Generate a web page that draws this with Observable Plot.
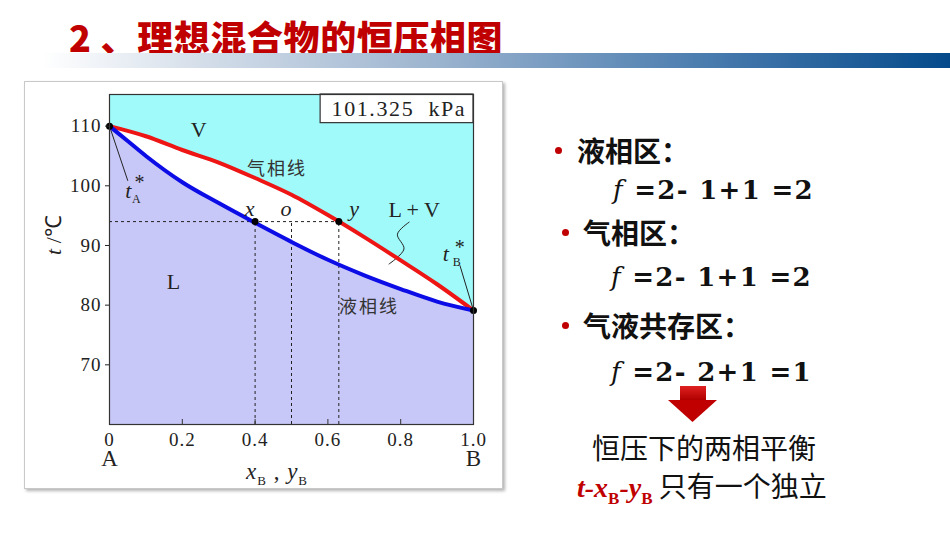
<!DOCTYPE html>
<html><head><meta charset="utf-8">
<script src="https://cdn.jsdelivr.net/npm/d3@7"></script>
<script src="https://cdn.jsdelivr.net/npm/@observablehq/plot@0.6"></script>
<style>
body{margin:0;width:950px;height:535px;background:#fff;position:relative;overflow:hidden;font-family:"Noto Sans CJK SC",sans-serif;}
.abs{position:absolute;white-space:nowrap;}
#title{left:69px;top:14px;font-size:36px;font-weight:900;color:#c00000;line-height:44px;letter-spacing:0.6px;}
#bar{left:42px;top:53px;width:908px;height:15px;background:linear-gradient(to right,#ffffff 0%,#d3dde9 18%,#9fb6d0 42%,#4d7eb0 72%,#044a8b 100%);}
#chartbox{left:24px;top:81px;width:477px;height:406px;border:1px solid #c8c8c8;box-shadow:2px 2px 3px #b4b4b4;background:#fff;}
#chartbox svg{position:absolute;left:0;top:0;}
.serif{font-family:"Liberation Serif",serif;color:#222;}
.dot{width:7px;height:7px;border-radius:50%;background:#c00000;}
.head{font-size:28px;font-weight:bold;color:#111;}
.formula{font-family:"DejaVu Serif",serif;font-size:26px;font-weight:bold;color:#111;letter-spacing:1.3px;}
.plain{font-size:28px;color:#111;}
</style></head><body>
<div id="title" class="abs"><span style="margin-right:9px">2</span>、理想混合物的恒压相图</div>
<div id="bar" class="abs"></div>
<div id="chartbox" class="abs"></div>
<div id="overlay"></div>
<script>
// ---- data ----
const compX   = [0, 0.1, 0.2, 0.3, 0.4, 0.5, 0.6, 0.7, 0.8, 0.9, 1.0];
const vaporT  = [110, 108.3, 106.0, 103.9, 101.3, 98.5, 95.1, 91.4, 87.5, 83.5, 79.1];
const liquidX = [0, 0.05, 0.1, 0.2, 0.3, 0.4, 0.5, 0.6, 0.7, 0.8, 0.9, 1.0];
const liquidT = [110, 107.5, 105.0, 100.6, 97.1, 93.8, 90.6, 87.6, 85.0, 82.7, 80.6, 79.1];
const yTicks = [70, 80, 90, 100, 110];
const xTicks = [0, 0.2, 0.4, 0.6, 0.8, 1.0];
const xTickLabels = ["0", "0.2", "0.4", "0.6", "0.8", "1.0"];
const tieT = 94;
const tieX = [0.4, 0.5, 0.63];
const tieNames = ["x", "o", "y"];
const tieLabelX = [0.385, 0.485, 0.672];
const tieLabelT = 96.1;
const yDomain = [60, 115.3];
const regionNames = ["V", "L", "L + V"];
const regionX = [0.245, 0.176, 0.837];
const regionT = [109.3, 83.9, 95.9];
const curveNames = ["气相线", "液相线"];
const curveX = [0.46, 0.713];
const curveT = [102.8, 79.7];
const pressureText = "101.325  kPa";
const pressureTextX = 0.795;
const pressureBoxX = [0.58, 1.0];
const pressureBoxT = [110.5, 115.3];
const leaderA = [[0, 110], [0.05, 100.9]];
const leaderB = [[1.0, 79.1], [0.963, 86.6]];
const labelA = [0.052, 99.2];
const labelB = [0.924, 88.6];
const squiggle = [[0.823, 93.9], [0.791, 91.9], [0.809, 89.4], [0.768, 86.9]];
const endA = ["A", "B"];

const CYAN = "#a0fafa", LAV = "#c8c8f8", RED = "#ee1515", BLUE = "#0c0ce6";

const vapor = compX.map((x, i) => ({x, t: vaporT[i]}));
const liquid = liquidX.map((x, i) => ({x, t: liquidT[i]}));
const yMin = yDomain[0];
const dots = [vapor[0], vapor[vapor.length - 1], {x: tieX[0], t: tieT}, {x: tieX[2], t: tieT}];
const dash = {stroke: "#222", strokeWidth: 1, strokeDasharray: "3,3"};

const chart = Plot.plot({
  width: 477, height: 406,
  marginLeft: 84, marginRight: 29, marginTop: 12, marginBottom: 64,
  x: {domain: [0, 1]},
  y: {domain: yDomain},
  style: {fontFamily: "'Liberation Serif', serif", fontSize: "19px", color: "#222", background: "transparent", overflow: "visible"},
  marks: [
    Plot.frame({fill: CYAN}),
    Plot.areaY(vapor, {x: "x", y1: yMin, y2: "t", fill: "#fff", curve: "monotone-x"}),
    Plot.areaY(liquid, {x: "x", y1: yMin, y2: "t", fill: LAV, curve: "monotone-x"}),
    Plot.ruleY([tieT], {x1: 0, x2: tieX[2], ...dash}),
    Plot.ruleX(tieX, {y1: yMin, y2: tieT, ...dash}),
    Plot.line(leaderA, {x: d => d[0], y: d => d[1], stroke: "#222", strokeWidth: 1}),
    Plot.line(leaderB, {x: d => d[0], y: d => d[1], stroke: "#222", strokeWidth: 1}),
    Plot.line(squiggle, {x: d => d[0], y: d => d[1], stroke: "#222", strokeWidth: 1, curve: "catmull-rom"}),
    Plot.line(vapor, {x: "x", y: "t", stroke: RED, strokeWidth: 4, curve: "monotone-x"}),
    Plot.line(liquid, {x: "x", y: "t", stroke: BLUE, strokeWidth: 4, curve: "monotone-x"}),
    Plot.dot(dots, {x: "x", y: "t", r: 3.5, fill: "#000"}),
    Plot.rect([0], {x1: pressureBoxX[0], x2: pressureBoxX[1], y1: pressureBoxT[0], y2: pressureBoxT[1], fill: "#fff", stroke: "#333", strokeWidth: 1.2}),
    Plot.text([pressureText], {x: pressureTextX, y: (pressureBoxT[0] + pressureBoxT[1]) / 2, text: d => d, fontSize: 22, fill: "#222"}),
    Plot.text(regionNames, {x: (d, i) => regionX[i], y: (d, i) => regionT[i], text: d => d, fontSize: 22, fill: "#222"}),
    Plot.text(curveNames, {x: (d, i) => curveX[i], y: (d, i) => curveT[i], text: d => d, fontSize: 18, fill: "#333", fontFamily: "'Noto Sans CJK SC', sans-serif"}),
    Plot.text(tieNames, {x: (d, i) => tieLabelX[i], y: tieLabelT, text: d => d, fontSize: 22, fontStyle: "italic", fill: "#222"}),
    // t_A*, t_B*
    Plot.text([labelA, labelB], {x: d => d[0], y: d => d[1], text: () => "t", fontSize: 22, fontStyle: "italic", fill: "#222"}),
    Plot.text([labelA], {x: d => d[0], y: d => d[1], text: () => "A", fontSize: 12, dx: 8, dy: 9, fill: "#222"}),
    Plot.text([labelB], {x: d => d[0], y: d => d[1], text: () => "B", fontSize: 12, dx: 11, dy: 8, fill: "#222"}),
    Plot.text([labelA], {x: d => d[0], y: d => d[1], text: () => "*", fontSize: 20, dx: 11, dy: -8, fill: "#222"}),
    Plot.text([labelB], {x: d => d[0], y: d => d[1], text: () => "*", fontSize: 20, dx: 14, dy: -6, fill: "#222"}),
    Plot.frame({stroke: "#333", strokeWidth: 1.2}),
    Plot.ruleX(xTicks, {insetTop: 325, stroke: "#333", strokeWidth: 1}),
    Plot.axisY({ticks: yTicks, tickSize: 4, tickPadding: 4, label: null, fontSize: 19}),
    Plot.axisX({ticks: xTicks, tickSize: 0, tickPadding: 8, tickFormat: d => xTickLabels[xTicks.indexOf(d)], label: null, fontSize: 19}),
    Plot.text(endA, {x: (d, i) => i === 0 ? 0 : 1, frameAnchor: "bottom", dy: 41, text: d => d, fontSize: 23, fill: "#222"})
  ]
});
const allText = d3.select(chart).selectAll("text");
allText.filter(function() { return this.textContent === pressureText; }).style("letter-spacing", "1.6px").style("white-space", "pre");
allText.filter(function() { return curveNames.includes(this.textContent); }).style("letter-spacing", "2px");
allText.filter(function() { return xTickLabels.includes(this.textContent) || yTicks.map(String).includes(this.textContent); }).style("letter-spacing", "1px");
document.getElementById("chartbox").appendChild(chart);

// ---- HTML texts ----
const ov = document.getElementById("overlay");
function add(html, cls, left, cy, lh, extra) {
  const d = document.createElement("div");
  d.className = "abs " + cls;
  d.innerHTML = html;
  d.style.left = left + "px";
  d.style.top = (cy - lh / 2) + "px";
  d.style.lineHeight = lh + "px";
  if (extra) Object.assign(d.style, extra);
  ov.appendChild(d);
  return d;
}
// axis labels
add('<i>x</i><sub style="font-size:13px;font-style:normal">B</sub> , <i>y</i><sub style="font-size:13px">B</sub>', "serif", 246, 472, 26, {fontSize: "23px", letterSpacing: "1px"});
add('<i>t</i> /℃', "serif", 30, 235, 26, {fontSize: "22px", transform: "rotate(-90deg)", transformOrigin: "center", width: "48px", textAlign: "center"});

// right side
const heads = ["液相区：", "气相区：", "气液共存区："];
const headLeft = [577, 583, 583];
const bulletLeft = [555, 562, 562];
const headY = [150, 232, 325];
const formulas = [["2", "1", "1", "2"], ["2", "1", "1", "2"], ["2", "2", "1", "1"]];
const formulaLeft = [613, 611, 611];
const formulaY = [190, 277, 372];
heads.forEach((h, i) => {
  add("", "dot", bulletLeft[i], headY[i], 7, {top: (headY[i] - 3.5) + "px", height: "7px"});
  add(h, "head", headLeft[i], headY[i], 34);
  const f = formulas[i];
  add('<i style="font-weight:normal">f</i>&nbsp;=' + f[0] + '-&nbsp;' + f[1] + '+' + f[2] + '&nbsp;=' + f[3], "formula", formulaLeft[i], formulaY[i], 34);
});
// arrow
const arrow = document.createElement("div");
arrow.className = "abs";
arrow.style.cssText = "left:668px;top:386px;width:49px;height:36px;";
arrow.innerHTML = '<svg width="49" height="36"><defs><linearGradient id="ag" x1="0" x2="0" y1="0" y2="1"><stop offset="0" stop-color="#e02020"/><stop offset="1" stop-color="#b00000"/></linearGradient></defs><rect x="12" y="0" width="26" height="14" fill="url(#ag)"/><path d="M0 14 L49 14 L24.5 36 Z" fill="#c00000"/></svg>';
ov.appendChild(arrow);
add("恒压下的两相平衡", "plain", 592, 447, 34);
add('<span style="font-family:\'Liberation Serif\',serif;color:#c00000;font-weight:bold;font-style:italic">t-x<sub style="font-style:normal;font-size:17px">B</sub>-y<sub style="font-style:normal;font-size:17px">B</sub></span> 只有一个独立', "plain", 577, 485, 34);
</script>
</body></html>
